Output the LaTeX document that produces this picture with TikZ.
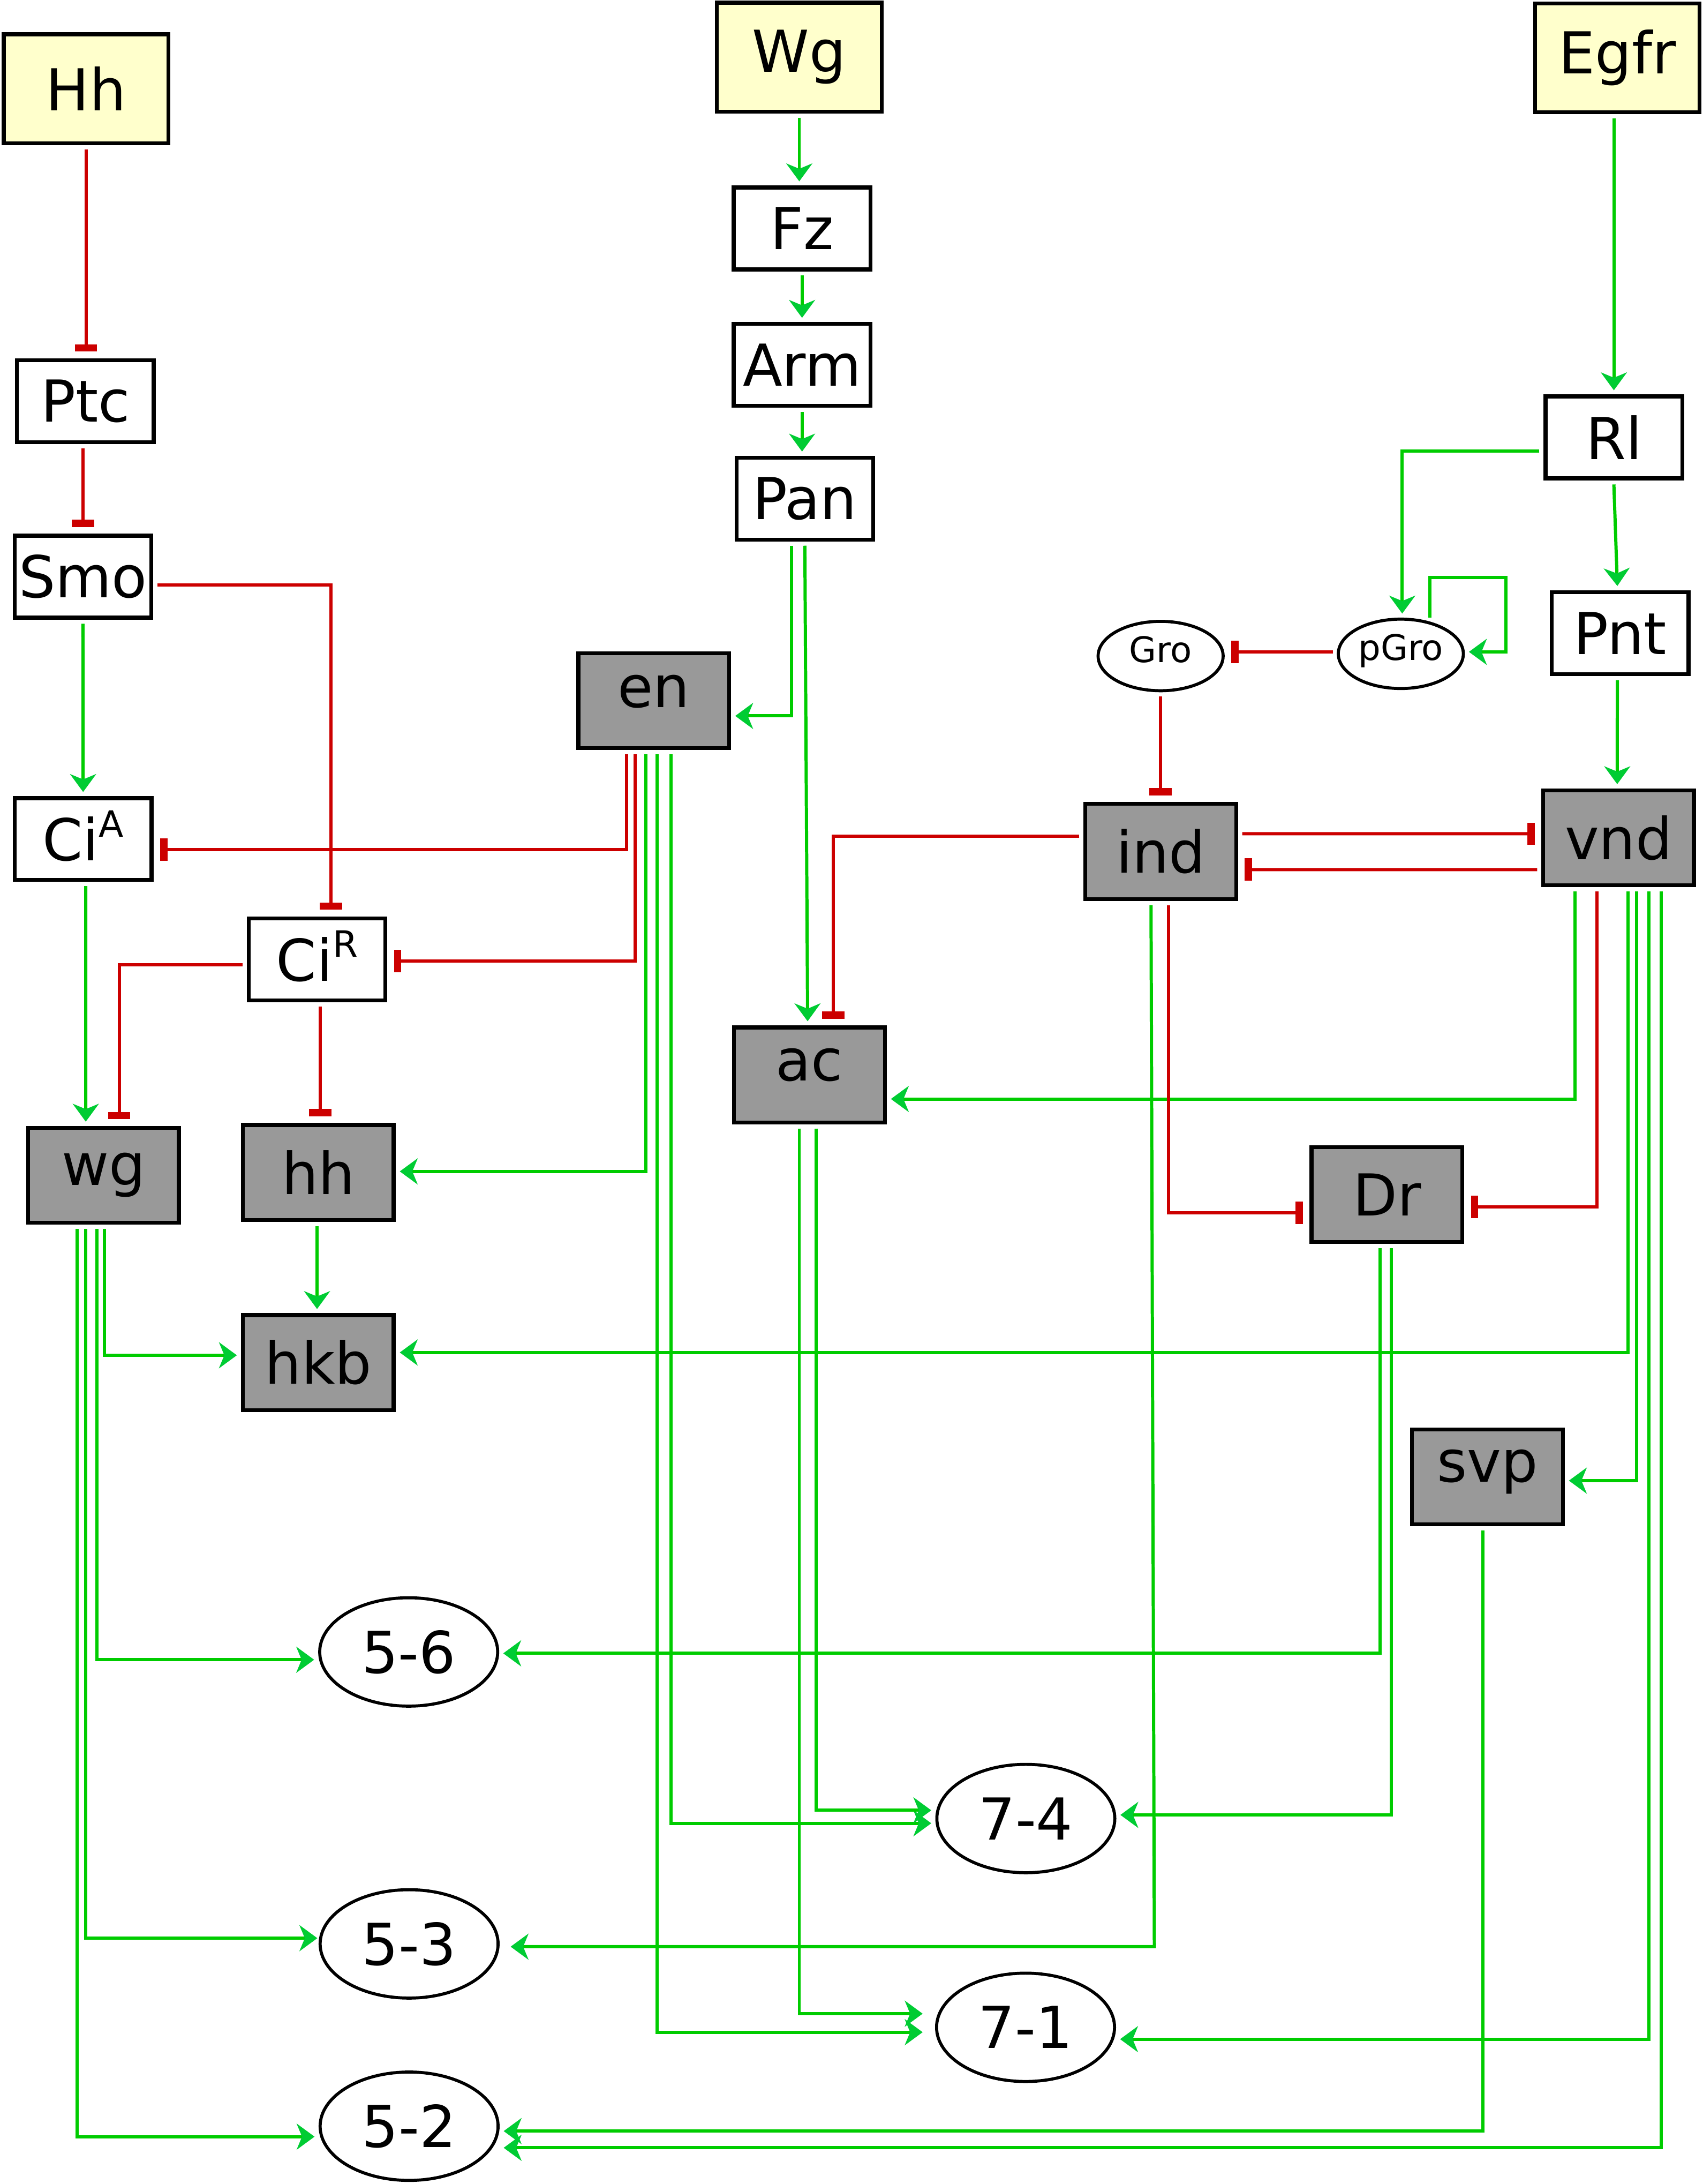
\documentclass[tikz,border=0pt]{standalone}
\usepackage{fontspec}
\setmainfont{DejaVu Sans}
\usetikzlibrary{arrows.meta,calc,shapes.geometric}
\definecolor{sigyellow}{HTML}{FFFFCC}
\definecolor{genegray}{HTML}{999999}
\definecolor{lgreen}{HTML}{00CC00}
\definecolor{tgreen}{HTML}{00CC33}
\definecolor{lred}{HTML}{CC0000}
\newcommand\fsMain{\fontsize{59pt}{60pt}\selectfont}
\newcommand\fsSmall{\fontsize{36pt}{37pt}\selectfont}
\newcommand\fsSup{\fontsize{37pt}{38pt}\selectfont}
\newcommand\supA[1]{\raisebox{8.5mm}[0pt][0pt]{\fsSup #1}}
\tikzset{
  nbase/.style={draw=black, line width=1.4mm, outer sep=2.2mm, inner sep=0pt, font=\fsMain, text=black},
  sig/.style={nbase, rectangle, fill=sigyellow, minimum width=59.1mm, minimum height=39.1mm},
  prot/.style={nbase, rectangle, fill=white, minimum width=49.1mm, minimum height=29.4mm},
  gene/.style={nbase, rectangle, fill=genegray, minimum width=54.1mm, minimum height=34.1mm},
  lowtext/.style={text height=#1, text depth=0pt},
  smallell/.style={nbase, ellipse, fill=white, line width=1.1mm, outer sep=2mm, minimum width=44.9mm, minimum height=24.9mm, font=\fsSmall, text height=4.5mm, text depth=0pt},
  bigell/.style={nbase, ellipse, fill=white, line width=1.1mm, outer sep=2mm, minimum width=63.9mm, minimum height=38.9mm},
  act/.style={draw=lgreen, line width=1.15mm, -{Stealth[length=6.4mm, width=9.3mm, inset=1.9mm, color=tgreen]}},
  inh/.style={draw=lred, line width=1.15mm, -{Rectangle[length=2.6mm, width=8mm]}, shorten >=0.9mm},
}
\begin{document}
\begin{tikzpicture}[x=0.5mm, y=-0.5mm]
\useasboundingbox (0,0) rectangle (1223,1568);
% signals
\node[sig] (Hh) at (61.8,63.7) {Hh};
\node[sig] (Wg) at (574,41) {Wg};
\node[sig] (Egfr) at (1161.5,41.5) {Egfr};
% proteins
\node[prot] (Ptc) at (61.3,288) {Ptc};
\node[prot] (Smo) at (59.6,414) {Smo};
\node[prot] (Fz) at (576,164) {Fz};
\node[prot] (Arm) at (576,262) {Arm};
\node[prot] (Pan) at (578,358) {Pan};
\node[prot] (Rl) at (1159,314) {Rl};
\node[prot] (Pnt) at (1163.5,454.5) {Pnt};
\node[prot] (CiA) at (59.7,602.4) {Ci\supA{A}};
\node[prot] (CiR) at (227.7,688.8) {Ci\supA{R}};
\node[smallell] (Gro) at (833.5,471) {Gro};
\node[smallell] (pGro) at (1006,469.4) {pGro};
% genes
\node[gene, lowtext=5mm] (en) at (469.5,503) {en};
\node[gene] (ind) at (833.6,611.3) {ind};
\node[gene] (vnd) at (1162.4,601.5) {vnd};
\node[gene, lowtext=4.3mm] (ac) at (581.3,771.7) {ac};
\node[gene] (wg) at (74.4,843.8) {wg};
\node[gene] (hh) at (228.6,841.7) {hh};
\node[gene] (Dr) at (996,857.6) {Dr};
\node[gene] (hkb) at (228.6,978.3) {hkb};
\node[gene, lowtext=3.7mm] (svp) at (1068.2,1060.3) {svp};
% neuroblasts
\node[bigell] (n56) at (293.5,1186) {5-6};
\node[bigell] (n74) at (736.7,1305.6) {7-4};
\node[bigell] (n53) at (293.8,1395.6) {5-3};
\node[bigell] (n71) at (736.5,1455.5) {7-1};
\node[bigell] (n52) at (293.8,1526.5) {5-2};
% Hh pathway
\draw[inh] (Hh.south) -- (Hh.south |- Ptc.north);
\draw[inh] (Smo.north |- Ptc.south) -- (Smo.north);
\draw[act] (Smo.south) -- (CiA.north);
\draw[inh] ($(Smo.east)+(0,6)$) -| ($(CiR.north)+(10,0)$);
% Wg pathway
\draw[act] (Wg.south) -- (Wg.south |- Fz.north);
\draw[act] (Fz.south) -- (Arm.north);
\draw[act] (Arm.south) -- (Arm.south |- Pan.north);
\draw[act] ($(Pan.south)+(-9.7,0)$) |- ($(en.east)+(0,11)$);
\draw[act] (Pan.south) -- ($(ac.north)+(-1.3,0)$);
% Egfr pathway
\draw[act] (Rl.north |- Egfr.south) -- (Rl.north);
\draw[act] ($(Rl.west)+(0,10)$) -| ($(pGro.north)+(1,0)$);
\draw[act] (Rl.south) -- ($(Pnt.north)+(-2,0)$);
\draw[act] ($(pGro.center)+(21,-26)$) -- ++(0,-28.8) -- ++(54.6,0) |- ($(pGro.east)+(0,-1.4)$);
\draw[inh] ($(pGro.west)+(0,-1.4)$) -- ($(Gro.east)+(0,-3)$);
\draw[inh] (Gro.south) -- (Gro.south |- ind.north);
\draw[act] ($(Pnt.south)+(-2,0)$) -- ($(vnd.north)+(-1,0)$);
% ind / vnd
\draw[inh] ($(ind.east)+(0,-12.7)$) -- ($(vnd.west)+(0,-2.9)$);
\draw[inh] ($(vnd.west)+(0,22.8)$) -- ($(ind.east)+(0,13)$);
\draw[inh] ($(ind.west)+(0,-10.9)$) -| ($(ac.north)+(17.2,0)$);
\draw[act] ($(vnd.south)+(-31.4,0)$) |- ($(ac.east)+(0,17.3)$);
\draw[inh] ($(vnd.south)+(-15.4,0)$) |- ($(Dr.east)+(0,8.9)$);
\draw[inh] ($(ind.south)+(5.4,0)$) |- ($(Dr.west)+(0,13)$);
\draw[act] ($(ind.south)+(-7,0)$) -- ($(n53.center)+(535.2,2)$) -- ($(n53.east)+(5,2)$);
\draw[act] ($(vnd.south)+(6.6,0)$) |- ($(hkb.east)+(0,-7.3)$);
\draw[act] ($(vnd.south)+(13,0)$) |- ($(svp.east)+(0,2.7)$);
\draw[act] ($(vnd.south)+(21.6,0)$) |- ($(n71.east)+(0,8.5)$);
\draw[act] ($(vnd.south)+(30.6,0)$) |- ($(n52.east)+(0,15.5)$);
\draw[act] ($(svp.south)+(-3.2,0)$) |- ($(n52.east)+(0,3.5)$);
\draw[act] ($(Dr.south)+(-5,0)$) |- ($(n56.east)+(0,1)$);
\draw[act] ($(Dr.south)+(3,0)$) |- ($(n74.east)+(0,-2.6)$);
% en
\draw[inh] ($(en.south)+(-19.5,0)$) |- ($(CiA.east)+(0,7.6)$);
\draw[inh] ($(en.south)+(-13.5,0)$) |- ($(CiR.east)+(0,1.2)$);
\draw[act] ($(en.south)+(-5.5,0)$) |- ($(hh.east)+(0,-0.7)$);
\draw[act] ($(en.south)+(2.5,0)$) |- ($(n71.west)+(-6,3.5)$);
\draw[act] ($(en.south)+(12.5,0)$) |- ($(n74.west)+(0,3.4)$);
% ac
\draw[act] ($(ac.south)+(4.7,0)$) |- ($(n74.west)+(0,-5.9)$);
\draw[act] ($(ac.south)+(-7.3,0)$) |- ($(n71.west)+(-6,-9.8)$);
% Ci
\draw[act] ($(CiA.south)+(1.9,0)$) -- ($(wg.north)+(-12.8,0)$);
\draw[inh] ($(CiR.west)+(0,3.8)$) -| ($(wg.north)+(11.2,0)$);
\draw[inh] ($(CiR.south)+(2.3,0)$) -- ($(hh.north)+(1.4,0)$);
\draw[act] ($(hh.south)+(-0.9,0)$) -- ($(hkb.north)+(-0.9,0)$);
% wg
\draw[act] ($(wg.south)+(0.6,0)$) |- ($(hkb.west)+(0,-5.3)$);
\draw[act] ($(wg.south)+(-4.9,0)$) |- ($(n56.west)+(0,5.6)$);
\draw[act] ($(wg.south)+(-12.8,0)$) |- ($(n53.west)+(2,-4.1)$);
\draw[act] ($(wg.south)+(-19.1,0)$) |- ($(n52.west)+(0,7.5)$);
\end{tikzpicture}
\end{document}
